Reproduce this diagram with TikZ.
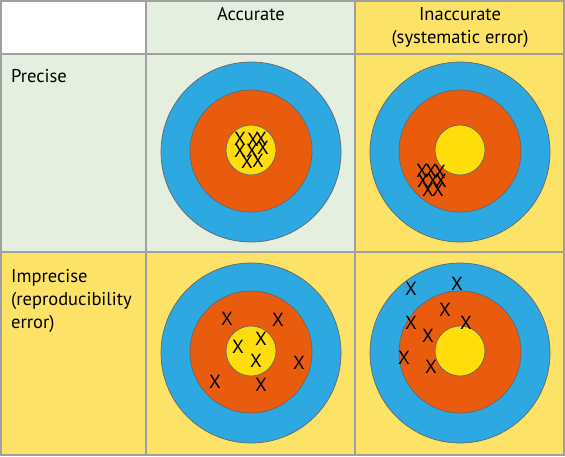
\documentclass[tikz,border=0pt]{standalone}
\usepackage{fontspec}
\setmainfont{PT Sans}
\usetikzlibrary{calc}
\definecolor{paleGreen}{RGB}{229,239,223}
\definecolor{paleYellow}{RGB}{252,226,102}
\definecolor{ringBlue}{RGB}{46,168,224}
\definecolor{ringOrange}{RGB}{233,92,14}
\definecolor{ringYellow}{RGB}{255,221,10}
\definecolor{gridGrey}{RGB}{160,160,160}
\tikzset{gridline/.style={draw=gridGrey,line width=2pt}}
\tikzset{ring/.style={draw=black!60,line width=0.7pt}}
\tikzset{hit/.style={inner sep=0pt,font=\fontsize{19}{19}\selectfont}}
\tikzset{label/.style={inner sep=0pt,font=\fontsize{18.5}{23.3}\selectfont}}

\begin{document}
\begin{tikzpicture}[x=1pt,y=-1pt]
  \useasboundingbox (0,0) rectangle (565,456);

  % cell backgrounds
  \fill[white] (0,0) rectangle (146,54);
  \fill[paleGreen] (146,0) rectangle (355,54);
  \fill[paleYellow] (355,0) rectangle (565,54);
  \fill[paleGreen] (0,54) rectangle (355,252);
  \fill[paleYellow] (355,54) rectangle (565,252);
  \fill[paleYellow] (0,252) rectangle (565,456);

  % grid
  \draw[gridline] (1,1) rectangle (564,455);
  \draw[gridline] (146,1) -- (146,455);
  \draw[gridline] (355,1) -- (355,455);
  \draw[gridline] (1,54) -- (564,54);
  \draw[gridline] (1,252) -- (564,252);

  % headings (base = last line)
  \node[label,anchor=base] (acc) at (251,20) {Accurate};
  \node[label,anchor=base,align=center] (inacc) at (460,43.3) {Inaccurate\\(systematic error)};
  \node[label,anchor=base west] (prec) at (11,82) {Precise};
  \node[label,anchor=base west,align=left] (imprec) at (11,328.6) {Imprecise\\(reproducibility\\error)};

  % target centres
  \coordinate (t1) at (251,152);
  \coordinate (t2) at (460,152);
  \coordinate (t3) at (251,353);
  \coordinate (t4) at (460,353);

  % rings
  \foreach \t in {t1,t2,t3,t4} {
    \filldraw[ring,fill=ringBlue] (\t) circle (90);
    \filldraw[ring,fill=ringOrange] ($(\t)+(0,-1)$) circle (61);
    \filldraw[ring,fill=ringYellow] ($(\t)+(0,-2)$) circle (25);
  }

  % accurate, precise
  \foreach \dx/\dy [count=\i] in {-11/-13,2/-12,10/-13,-11/-1,1/-1,12/-4,-4/10,7/9}
    \node[hit] (a\i) at ($(t1)+(\dx,\dy)$) {X};

  % inaccurate, precise
  \foreach \dx/\dy [count=\i] in {-38/19,-29/19,-20/20,-37/29,-27/29,-19/29,-32/38,-22/38}
    \node[hit] (b\i) at ($(t2)+(\dx,\dy)$) {X};

  % accurate, imprecise
  \foreach \dx/\dy [count=\i] in {-24/-34,27/-33,-13/-6,10/-14,5/8,48/10,-36/29,10/32}
    \node[hit] (c\i) at ($(t3)+(\dx,\dy)$) {X};

  % inaccurate, imprecise
  \foreach \dx/\dy [count=\i] in {-49/-64,-3/-69,-15/-43,-49/-30,6/-30,-32/-17,-56/5,-29/14}
    \node[hit] (d\i) at ($(t4)+(\dx,\dy)$) {X};
\end{tikzpicture}
\end{document}
